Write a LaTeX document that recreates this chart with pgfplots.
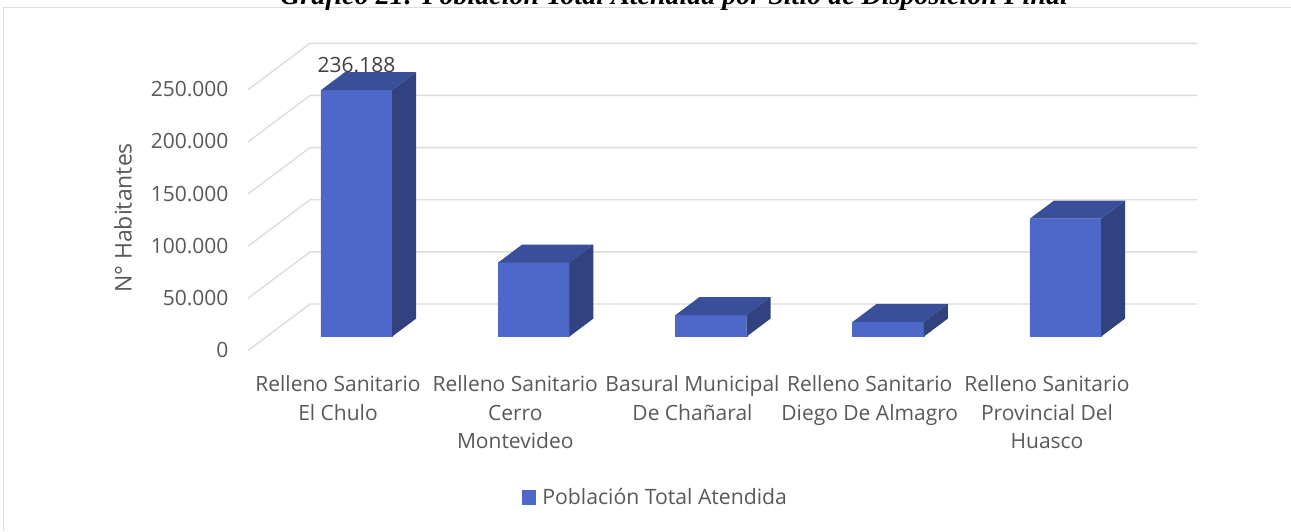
\documentclass[border=0pt]{standalone}
\usepackage{pgfplots}
\usepackage{fontspec}
\pgfplotsset{compat=1.18}
\setmainfont{Open Sans}
\newfontfamily\titlefont{Liberation Serif}
\definecolor{barfront}{HTML}{4D68C8}
\definecolor{bartop}{HTML}{3A4F99}
\definecolor{barside}{HTML}{31427F}
\definecolor{gridc}{HTML}{DDDDDD}
\definecolor{txt}{HTML}{595959}
\newcommand{\fs}{\fontsize{21}{28.7}\selectfont}
\begin{document}
\begin{tikzpicture}[x=1pt,y=1pt]
\useasboundingbox (0,0) rectangle (1291,531);
\fill[white] (0,0) rectangle (1291,531);
\draw[gridc,line width=1pt] (3.5,0) -- (3.5,523.7) -- (1291,523.7);
\begin{axis}[
  at={(248pt,180pt)},anchor=south west,
  scale only axis,width=949pt,height=308pt,
  xmin=-0.6121,xmax=4.7419,ymin=-13889,ymax=281418,
  clip=false,axis line style={draw=none},
  scaled y ticks=false,
  xtick={0,1,2,3,4},
  xticklabels={{Relleno Sanitario\\El Chulo},{Relleno Sanitario\\Cerro\\Montevideo},{Basural Municipal\\De Chañaral},{Relleno Sanitario\\Diego De Almagro},{Relleno Sanitario\\Provincial Del\\Huasco}},
  xticklabel style={align=center,font=\fs,text=txt,xshift=-18.5pt,anchor=north,yshift=-21pt},
  ytick={-11015,38985,88985,138985,188985,238985},
  yticklabels={0,50.000,100.000,150.000,200.000,250.000},
  yticklabel style={font=\fs,text=txt,anchor=east,xshift=-16pt,yshift=-2pt},
  tick style={draw=none},
  major tick length=0pt,
  ylabel={N° Habitantes},
  every axis y label/.style={at={(axis description cs:-0.1317,0.4318)},rotate=90,anchor=center,font=\fontsize{23}{26}\selectfont,text=txt},
  title={\titlefont\bfseries\itshape Gráfico 21: Población Total Atendida por Sitio de Disposición Final},
  every axis title/.style={at={(axis description cs:0.4489,1.1266)},anchor=base,font=\fontsize{28}{30}\selectfont,text=black},
  legend style={at={(axis description cs:0.4294,-0.474)},anchor=center,draw=none,fill=none,font=\fontsize{21.2}{24}\selectfont,text=txt,inner sep=0pt},
  legend image code/.code={\fill[barfront] (0pt,-7pt) rectangle (13pt,7pt);\path (18pt,0pt);},
  legend cell align=left,
]
% gridlines: floor edge to back wall
\addplot[gridc,line width=1.4pt,forget plot] coordinates {(-0.6121,-13410) (-0.2623,31130) (4.7419,31130)};
\addplot[gridc,line width=1.4pt,forget plot] coordinates {(-0.6121,36590) (-0.2623,81130) (4.7419,81130)};
\addplot[gridc,line width=1.4pt,forget plot] coordinates {(-0.6121,86590) (-0.2623,131130) (4.7419,131130)};
\addplot[gridc,line width=1.4pt,forget plot] coordinates {(-0.6121,136590) (-0.2623,181130) (4.7419,181130)};
\addplot[gridc,line width=1.4pt,forget plot] coordinates {(-0.6121,186590) (-0.2623,231130) (4.7419,231130)};
\addplot[gridc,line width=1.4pt,forget plot] coordinates {(-0.6121,236590) (-0.2623,281130) (4.7419,281130)};
% front faces
\addplot[ybar,bar width=71.3pt,bar shift=0pt,fill=barfront,draw=barfront,line width=0.3pt] coordinates {(0,236188) (1,70900) (2,20500) (3,14000) (4,113000)};
\addlegendentry{Población Total Atendida}
% top faces
\addplot[fill=bartop,draw=none,forget plot] coordinates {(-0.2011,236188) (0.2011,236188) (0.3365,253429) (-0.0657,253429)} -- cycle;
\addplot[fill=bartop,draw=none,forget plot] coordinates {(0.7989,70900) (1.2011,70900) (1.3365,88141) (0.9343,88141)} -- cycle;
\addplot[fill=bartop,draw=none,forget plot] coordinates {(1.7989,20500) (2.2011,20500) (2.3365,37741) (1.9343,37741)} -- cycle;
\addplot[fill=bartop,draw=none,forget plot] coordinates {(2.7989,14000) (3.2011,14000) (3.3365,31241) (2.9343,31241)} -- cycle;
\addplot[fill=bartop,draw=none,forget plot] coordinates {(3.7989,113000) (4.2011,113000) (4.3365,130241) (3.9343,130241)} -- cycle;
% side faces
\addplot[fill=barside,draw=none,forget plot] coordinates {(0.2011,0) (0.2011,236188) (0.3365,253429) (0.3365,17241)} -- cycle;
\addplot[fill=barside,draw=none,forget plot] coordinates {(1.2011,0) (1.2011,70900) (1.3365,88141) (1.3365,17241)} -- cycle;
\addplot[fill=barside,draw=none,forget plot] coordinates {(2.2011,0) (2.2011,20500) (2.3365,37741) (2.3365,17241)} -- cycle;
\addplot[fill=barside,draw=none,forget plot] coordinates {(3.2011,0) (3.2011,14000) (3.3365,31241) (3.3365,17241)} -- cycle;
\addplot[fill=barside,draw=none,forget plot] coordinates {(4.2011,0) (4.2011,113000) (4.3365,130241) (4.3365,17241)} -- cycle;
% data label
\addplot[draw=none,forget plot,point meta=explicit symbolic,
  nodes near coords,
  every node near coord/.style={anchor=center,yshift=25pt,font=\fontsize{21}{26}\selectfont,text=black!75}]
  coordinates {(0,236188)[236.188]};
\end{axis}
\end{tikzpicture}
\end{document}
